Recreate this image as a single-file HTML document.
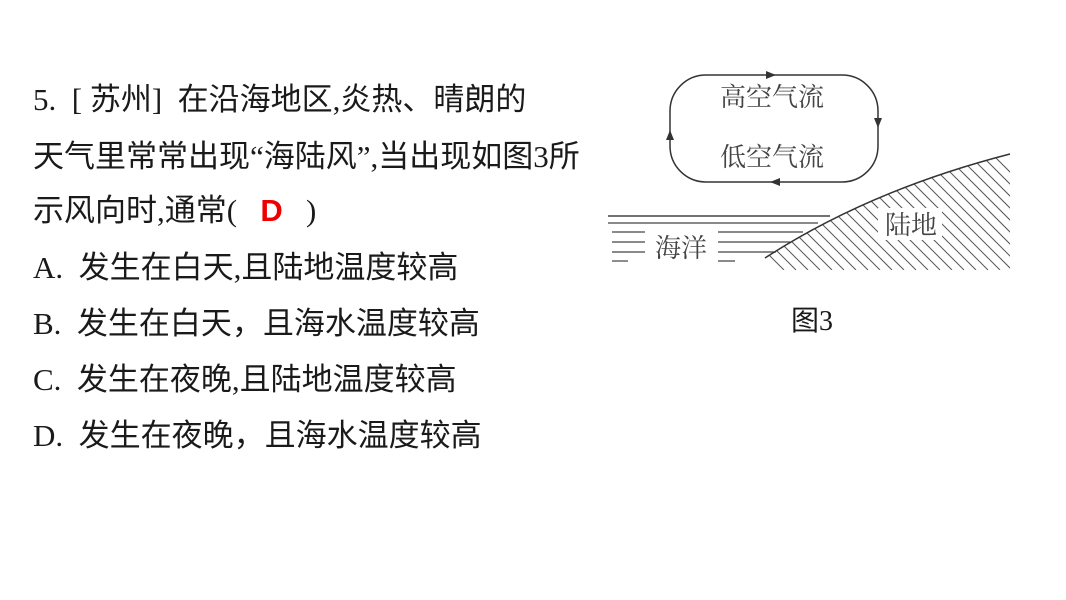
<!DOCTYPE html>
<html><head><meta charset="utf-8"><style>
body{margin:0;width:1066px;height:600px;background:#fff;position:relative;overflow:hidden;font-family:"Liberation Serif","Noto Sans CJK SC",serif;color:#1a1a1a}
.t{position:absolute;left:33px;font-size:31px;white-space:nowrap;line-height:1;font-family:"Liberation Serif","Noto Sans CJK SC",sans-serif;letter-spacing:0}
.d{color:#e00;font-family:"Liberation Sans",sans-serif;font-weight:bold}
</style></head><body>
<div class="t" style="top:84px">5.&nbsp; [ 苏州]&nbsp; 在沿海地区,炎热、晴朗的</div>
<div class="t" style="top:141px">天气里常常出现“海陆风”,当出现如图3所</div>
<div class="t" style="top:195px">示风向时,通常(&nbsp;&nbsp;&nbsp;<span class="d">D</span>&nbsp;&nbsp;&nbsp;)</div>
<div class="t" style="top:252px">A.&nbsp; 发生在白天,且陆地温度较高</div>
<div class="t" style="top:308px">B.&nbsp; 发生在白天，且海水温度较高</div>
<div class="t" style="top:364px">C.&nbsp; 发生在夜晚,且陆地温度较高</div>
<div class="t" style="top:420px">D.&nbsp; 发生在夜晚，且海水温度较高</div>
<svg style="position:absolute;left:0;top:0" width="1066" height="600">
<defs><clipPath id="land"><path d="M765 258 Q870 190 1010 154 L1010 270 L765 270Z"/></clipPath></defs>
<g stroke="#333" stroke-width="1.5" fill="none">
<rect x="670" y="75" width="208" height="107" rx="36"/>
</g>
<g fill="#333">
<polygon points="766,71 776,75 766,79"/>
<polygon points="874,118 878,128 882,118"/>
<polygon points="780,178 770,182 780,186"/>
<polygon points="666,140 670,130 674,140"/>
</g>
<g stroke="#444" stroke-width="1.2">
<line x1="608" y1="216" x2="830" y2="216" stroke-width="1.5"/>
<line x1="608" y1="223" x2="818" y2="223"/>
<line x1="612" y1="232" x2="645" y2="232"/><line x1="718" y1="232" x2="803" y2="232"/>
<line x1="612" y1="242" x2="645" y2="242"/><line x1="718" y1="242" x2="790" y2="242"/>
<line x1="612" y1="252" x2="645" y2="252"/><line x1="718" y1="252" x2="776" y2="252"/>
<line x1="612" y1="261" x2="628" y2="261"/><line x1="718" y1="261" x2="735" y2="261"/>
</g>
<g clip-path="url(#land)" stroke="#555" stroke-width="1">
<path d="M760 150 L880 270 M772 150 L892 270 M784 150 L904 270 M796 150 L916 270 M808 150 L928 270 M820 150 L940 270 M832 150 L952 270 M844 150 L964 270 M856 150 L976 270 M868 150 L988 270 M880 150 L1000 270 M892 150 L1012 270 M904 150 L1024 270 M916 150 L1036 270 M928 150 L1048 270 M940 150 L1060 270 M952 150 L1072 270 M964 150 L1084 270 M976 150 L1096 270 M988 150 L1108 270 M748 150 L868 270 M736 150 L856 270 M724 150 L844 270 M712 150 L832 270 M700 150 L820 270 M688 150 L808 270 M676 150 L796 270 M664 150 L784 270"/>
</g>
<rect x="878" y="208" width="64" height="32" fill="#fff"/>
<path d="M765 258 Q870 190 1010 154" stroke="#333" stroke-width="1.5" fill="none"/>
<g font-family="Noto Serif CJK SC, Noto Sans CJK SC, serif" font-size="26" fill="#444" text-anchor="middle">
<text x="772" y="106">高空气流</text>
<text x="772" y="166">低空气流</text>
<text x="911" y="234">陆地</text>
<text x="681" y="257">海洋</text>
</g>
<text x="812" y="330" font-family="Liberation Serif, Noto Sans CJK SC, serif" font-size="28" fill="#1a1a1a" text-anchor="middle">图3</text>
</svg>
</body></html>
